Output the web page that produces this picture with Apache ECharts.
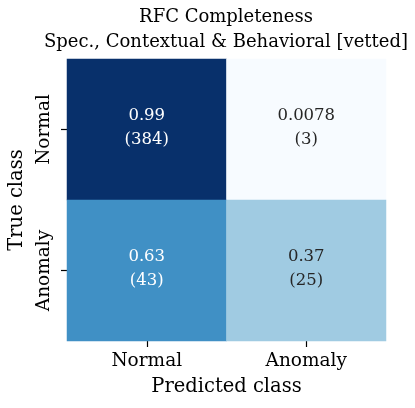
<!DOCTYPE html>
<html>
<head>
<meta charset="utf-8">
<script src="https://cdn.jsdelivr.net/npm/echarts@6/dist/echarts.min.js"></script>
<style>
  html, body { margin: 0; padding: 0; background: #fff; }
  #chart { width: 415px; height: 408px; }
</style>
</head>
<body>
<div id="chart"></div>
<script>
// confusion matrix, rows = true class, cols = predicted class
const predictedClasses = ['Normal', 'Anomaly']
const trueClasses = ['Normal', 'Anomaly']
const rates = [
  [0.99, 0.0078],
  [0.63, 0.37]
]
const counts = [
  [384, 3],
  [43, 25]
]

// matplotlib "Blues"
const blues = ['#f7fbff', '#deebf7', '#c6dbef', '#9ecae1', '#6baed6', '#4292c6', '#2171b5', '#08519c', '#08306b']

const FONT = 'DejaVu Serif'

const chart = echarts.init(document.getElementById('chart'))

const cells = []
trueClasses.forEach((t, r) => {
  predictedClasses.forEach((p, c) => {
    cells.push({
      value: [c, r, rates[r][c], counts[r][c]],
      label: { color: rates[r][c] > 0.5 ? '#ffffff' : '#262626' }
    })
  })
})

const option = {
  animation: false,
  title: {
    text: 'RFC Completeness\nSpec., Contextual & Behavioral [vetted]',
    left: 226,
    top: 5,
    padding: 0,
    textAlign: 'center',
    textStyle: {
      fontFamily: FONT,
      fontWeight: 'normal',
      fontSize: 18,
      lineHeight: 25,
      color: '#000'
    }
  },
  grid: {
    left: 67,
    right: 29,
    top: 59,
    bottom: 67,
    outerBoundsMode: 'none',
    containLabel: false
  },
  xAxis: {
    type: 'category',
    data: predictedClasses,
    name: 'Predicted class',
    nameLocation: 'middle',
    nameGap: 36,
    nameTextStyle: { fontFamily: FONT, fontSize: 19.5, color: '#000' },
    axisLine: { show: false },
    axisTick: { show: true, alignWithLabel: true, length: 6, lineStyle: { color: '#000', width: 1.2 } },
    axisLabel: { fontFamily: FONT, fontSize: 18.5, color: '#000', margin: 11 },
    splitLine: { show: false }
  },
  yAxis: {
    type: 'category',
    data: trueClasses,
    inverse: true,
    name: 'True class',
    nameLocation: 'middle',
    nameGap: 40,
    nameTextStyle: { fontFamily: FONT, fontSize: 19.5, color: '#000' },
    axisLine: { show: false },
    axisTick: { show: true, alignWithLabel: true, length: 6, lineStyle: { color: '#000', width: 1.2 } },
    axisLabel: { fontFamily: FONT, fontSize: 18.5, color: '#000', rotate: 90, margin: 13 },
    splitLine: { show: false }
  },
  visualMap: {
    show: false,
    type: 'continuous',
    dimension: 2,
    min: 0.0078,
    max: 0.99,
    inRange: { color: blues }
  },
  series: [{
    type: 'heatmap',
    data: cells,
    label: {
      show: true,
      fontFamily: FONT,
      fontSize: 16.5,
      lineHeight: 24,
      offset: [0, -2],
      formatter: p => p.value[2] + '\n(' + p.value[3] + ')'
    },
    itemStyle: { borderWidth: 0 },
    emphasis: { disabled: true }
  }]
}

chart.setOption(option)
</script>
</body>
</html>
